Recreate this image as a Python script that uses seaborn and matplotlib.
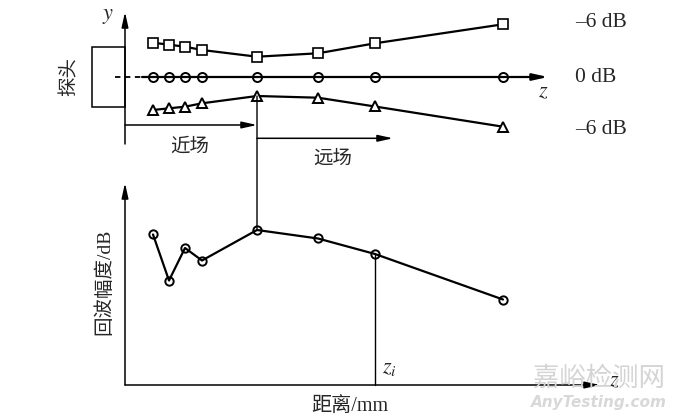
import numpy as np
import pandas as pd
import matplotlib
matplotlib.use('Agg')
import matplotlib.pyplot as plt
from matplotlib.patches import Rectangle, ConnectionPatch
import seaborn as sns

# distance along z (arbitrary units, measured from the probe face)
dist = [2.8, 4.4, 6.0, 7.7, 13.2, 19.3, 25.0, 37.8]
# -6 dB beam edges (offset from beam axis) and beam axis (0 dB)
upper_6db = [3.43, 3.23, 3.03, 2.70, 2.03, 2.37, 3.37, 5.27]
axis_0db = [0, 0, 0, 0, 0, 0, 0, 0]
lower_6db = [-3.30, -3.13, -2.97, -2.63, -1.90, -2.07, -2.95, -4.97]
# echo amplitude along the axis
echo_amp = [30.1, 20.9, 27.4, 24.9, 31.0, 29.3, 26.2, 17.1]

near_far_idx = 4   # near-field / far-field boundary point
zi_idx = 6         # point marked z_i

level_labels = ['–6 dB', '0 dB', '–6 dB']

sns.set_style('white')
plt.rcParams['font.family'] = ['Liberation Serif', 'Noto Sans CJK SC', 'DejaVu Sans']
plt.rcParams['mathtext.fontset'] = 'stix'

fig = plt.figure(figsize=(6.8, 4.19), dpi=100)
ax_top = fig.add_axes([0, 0, 1, 1], label='top')
ax_bot = fig.add_axes([0, 0, 1, 1], label='bot')
for ax in (ax_top, ax_bot):
    ax.set_xlim(-12.5, 55.5)
    ax.set_axis_off()
    ax.patch.set_alpha(0)
ax_top.set_ylim(-34.2, 7.7)
ax_bot.set_ylim(-6.8, 77)

arrow = dict(arrowstyle='-|>,head_length=0.9,head_width=0.2', color='black',
             lw=1.1, shrinkA=0, shrinkB=0)

def harrow(ax, x0, x1, y, lw=1.1):
    a = dict(arrow)
    a['lw'] = lw
    ax.annotate('', xy=(x1, y), xytext=(x0, y), arrowprops=a)

cjk = ['Noto Sans CJK SC']

# ---------- top: beam profile ----------
df_top = pd.DataFrame({'dist': dist, 'upper': upper_6db, 'axis': axis_0db, 'lower': lower_6db})

ax_top.annotate('', xy=(0, 6.5), xytext=(0, -6.7), arrowprops=arrow)
ax_top.text(-1.7, 6.1, '$y$', fontsize=16, ha='center', va='center')
ax_top.add_patch(Rectangle((-3.3, -3.0), 3.3, 6.0, fill=False, lw=1.1, ec='black'))
ax_top.text(-5.6, 0, '探头', rotation=90, fontsize=14, ha='center', va='center', family=cjk)
ax_top.plot([-1.0, 1.7], [0, 0], color='black', lw=1.3, ls=(0, (3, 2.5)))
harrow(ax_top, 1.7, 42.3, 0, lw=1.6)
ax_top.text(41.8, -1.6, '$z$', fontsize=16, ha='center', va='center')

sns.lineplot(data=df_top, x='dist', y='upper', ax=ax_top, color='black', lw=1.6,
             marker='s', markersize=6.5, markerfacecolor='white', markeredgecolor='black',
             markeredgewidth=1.2)
sns.lineplot(data=df_top, x='dist', y='lower', ax=ax_top, color='black', lw=1.6,
             marker='^', markersize=6.5, markerfacecolor='white', markeredgecolor='black',
             markeredgewidth=1.4)
ax_top.plot(df_top['dist'], df_top['axis'], ls='none', marker='o', markersize=6.5,
            markerfacecolor='none', markeredgecolor='black', markeredgewidth=1.4)

level_y = [upper_6db[-1] + 0.2, 0, lower_6db[-1] - 0.3]
for lab, yy in zip(level_labels, level_y):
    ax_top.text(45.0, yy, lab, fontsize=15.5, ha='left', va='center')

bx = dist[near_far_idx]
harrow(ax_top, 0, bx, -4.8)
harrow(ax_top, bx, 26.8, -6.13)
ax_top.text(6.5, -6.9, '近场', fontsize=14, ha='center', va='center', family=cjk)
ax_top.text(20.8, -8.1, '远场', fontsize=14, ha='center', va='center', family=cjk)

# ---------- bottom: echo amplitude ----------
df_bot = pd.DataFrame({'dist': dist, 'amp': echo_amp})

ax_bot.annotate('', xy=(0, 40.4), xytext=(0, 0), arrowprops=arrow)
harrow(ax_bot, 0, 47.5, 0)
ax_bot.text(48.9, 0.6, '$z$', fontsize=16, ha='center', va='center')

sns.lineplot(data=df_bot, x='dist', y='amp', ax=ax_bot, color='black', lw=1.6,
             marker='o', markersize=6, markerfacecolor='none', markeredgecolor='black',
             markeredgewidth=1.4)

zx = dist[zi_idx]
ax_bot.plot([zx, zx], [echo_amp[zi_idx], 0], color='black', lw=1.0)
ax_bot.text(zx + 1.4, 3.4, '$z_i$', fontsize=16, ha='center', va='center')

ax_bot.text(-2.1, 20.6, '回波幅度/dB', rotation=90, fontsize=14, ha='center', va='center')
ax_bot.text(22.5, -4.2, '距离/mm', fontsize=14.5, ha='center', va='center')

# connector from the near/far boundary down to the amplitude peak
con = ConnectionPatch(xyA=(bx, lower_6db[near_far_idx]), coordsA=ax_top.transData,
                      xyB=(bx, echo_amp[near_far_idx]), coordsB=ax_bot.transData,
                      color='black', lw=1.0)
fig.add_artist(con)

# watermark
fig.text(0.881, 0.098, '嘉峪检测网', fontsize=19, color='#d4d4d4', ha='center', va='center',
         family=cjk, zorder=0)
fig.text(0.881, 0.04, 'AnyTesting.com', fontsize=11, color='#d8d8d8', ha='center', va='center',
         style='italic', weight='bold', family=['DejaVu Sans'], zorder=0)

fig.savefig('out.png', dpi=100)
